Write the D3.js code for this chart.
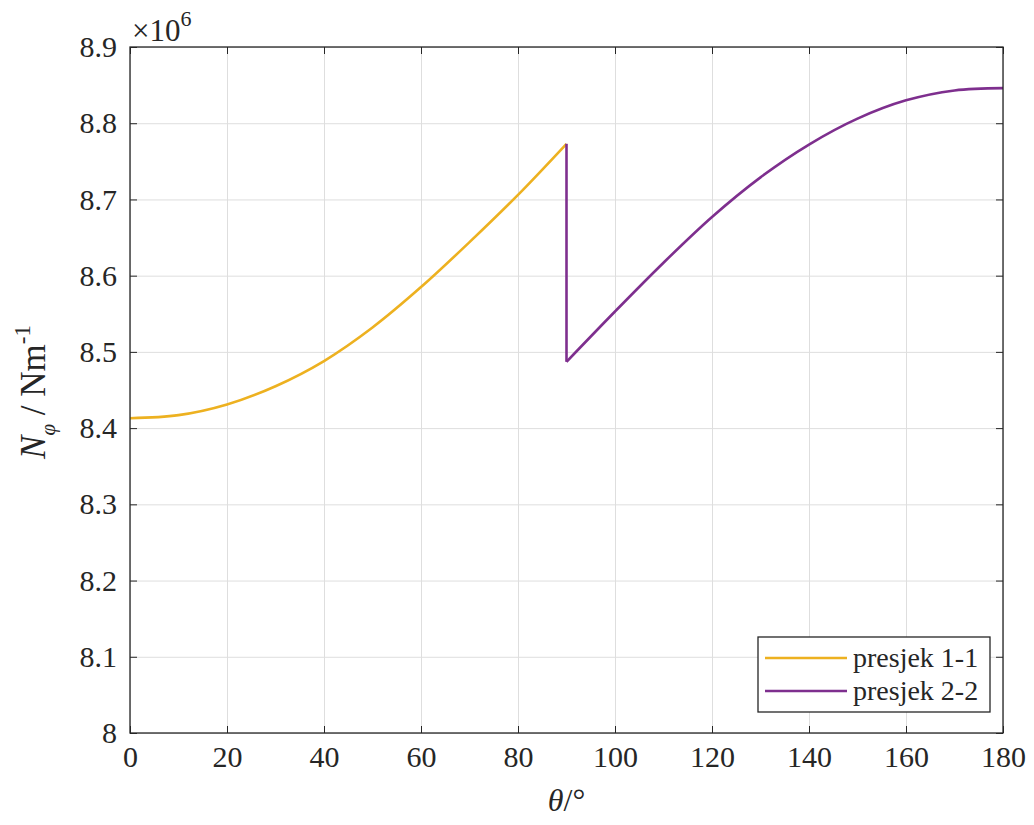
<html>
<head>
<style>
  body { margin: 0; background: #fff; }
  .axis path { stroke: none; }
  .axis line { stroke: #262626; }
  .grid line { stroke: #dedede; stroke-width: 1; }
  .grid path { stroke: none; }
  text { font-family: 'Liberation Serif', 'Times New Roman', serif !important; }
</style>
</head>
<body>
<svg id="chart" width="1034" height="825"></svg>
<script src="https://d3js.org/d3.v7.min.js"></script>
<script>
// angles in degrees, values in units of 1e6 N/m
const theta1 = [0, 10, 20, 30, 40, 50, 60, 70, 80, 90]
const presjek11 = [8.413, 8.417, 8.431, 8.455, 8.488, 8.532, 8.585, 8.644, 8.706, 8.773]
const theta2 = [90, 100, 110, 120, 130, 140, 150, 160, 170, 180]
const presjek22 = [8.487, 8.553, 8.617, 8.677, 8.729, 8.772, 8.806, 8.830, 8.843, 8.846]
const xTicks = [0, 20, 40, 60, 80, 100, 120, 140, 160, 180]
const yTicks = [8, 8.1, 8.2, 8.3, 8.4, 8.5, 8.6, 8.7, 8.8, 8.9]
const seriesNames = ["presjek 1-1", "presjek 2-2"]
const colors = ["#EDB120", "#7E2F8E"]

let svg = d3.select("#chart")
let plotLeft = 130, plotRight = 1003, plotTop = 47, plotBottom = 733
let ink = "#262626"

let xScale = d3.scaleLinear().domain([0, 180]).range([plotLeft, plotRight])
let yScale = d3.scaleLinear().domain([8, 8.9]).range([plotBottom, plotTop])

// grid
svg.append("g").attr("class", "grid")
    .attr("transform", "translate(0," + plotBottom + ")")
    .call(d3.axisBottom(xScale).tickValues(xTicks).tickSize(-(plotBottom - plotTop)).tickFormat(""))
svg.append("g").attr("class", "grid")
    .attr("transform", "translate(" + plotLeft + ",0)")
    .call(d3.axisLeft(yScale).tickValues(yTicks).tickSize(-(plotRight - plotLeft)).tickFormat(""))

// lines
let data1 = theta1.map((t, i) => ({t: t, v: presjek11[i]}))
let data2 = theta2.map((t, i) => ({t: t, v: presjek22[i]}))
let line = d3.line().x(d => xScale(d.t)).y(d => yScale(d.v)).curve(d3.curveCatmullRom.alpha(0.5))
let straight = d3.line().x(d => xScale(d.t)).y(d => yScale(d.v))

svg.append("path").datum(data1).attr("d", line)
    .attr("fill", "none").attr("stroke", colors[0]).attr("stroke-width", 2.6)
    .attr("stroke-linejoin", "round")
// jump at 90 degrees belongs to presjek 2-2
let jump = [data1[data1.length - 1], data2[0]]
svg.append("path").datum(jump).attr("d", straight)
    .attr("fill", "none").attr("stroke", colors[1]).attr("stroke-width", 2.6)
svg.append("path").datum(data2).attr("d", line)
    .attr("fill", "none").attr("stroke", colors[1]).attr("stroke-width", 2.6)
    .attr("stroke-linejoin", "round")

// axes, ticks inward on all sides
let tl = 7
svg.append("g").attr("class", "axis")
    .attr("transform", "translate(0," + plotBottom + ")")
    .call(d3.axisBottom(xScale).tickValues(xTicks).tickSize(-tl).tickPadding(13).tickFormat(d3.format("d")))
svg.append("g").attr("class", "axis")
    .attr("transform", "translate(0," + plotTop + ")")
    .call(d3.axisTop(xScale).tickValues(xTicks).tickSize(-tl).tickFormat(""))
svg.append("g").attr("class", "axis")
    .attr("transform", "translate(" + plotLeft + ",0)")
    .call(d3.axisLeft(yScale).tickValues(yTicks).tickSize(-tl).tickPadding(13).tickFormat(d => d3.format("~g")(d)))
svg.append("g").attr("class", "axis")
    .attr("transform", "translate(" + plotRight + ",0)")
    .call(d3.axisRight(yScale).tickValues(yTicks).tickSize(-tl).tickFormat(""))

svg.selectAll(".axis").attr("font-size", 30)
svg.selectAll(".axis .tick text").attr("fill", ink)

svg.append("rect")
    .attr("x", plotLeft).attr("y", plotTop)
    .attr("width", plotRight - plotLeft).attr("height", plotBottom - plotTop)
    .attr("fill", "none").attr("stroke", ink).attr("stroke-width", 1.3)

// exponent
let exp = svg.append("text").attr("fill", ink)
    .attr("x", plotLeft + 2).attr("y", 41).attr("font-size", 31)
exp.append("tspan").text("\u00d710")
exp.append("tspan").attr("font-size", 22).attr("dy", -15).text("6")

// axis labels
let xl = svg.append("text").attr("fill", ink)
    .attr("x", (plotLeft + plotRight) / 2).attr("y", 811)
    .attr("text-anchor", "middle").attr("font-size", 32)
xl.append("tspan").attr("font-style", "italic").text("\u03b8")
xl.append("tspan").text("/\u00b0")

let yl = svg.append("text").attr("fill", ink)
    .attr("transform", "translate(45,392) rotate(-90)")
    .attr("text-anchor", "middle").attr("font-size", 35)
yl.append("tspan").attr("font-style", "italic").text("N")
yl.append("tspan").attr("font-style", "italic").attr("font-size", 21).attr("dy", 10).text("\u03c6")
yl.append("tspan").attr("dy", -10).text(" / Nm")
yl.append("tspan").attr("font-size", 23).attr("dy", -15).text("-1")

// legend
let lg = svg.append("g")
lg.append("rect").attr("x", 758).attr("y", 637).attr("width", 232).attr("height", 75)
    .attr("fill", "#fff").attr("stroke", ink).attr("stroke-width", 1.3)
seriesNames.forEach((name, i) => {
    let yy = 658 + i * 33
    lg.append("line").attr("x1", 765).attr("x2", 847).attr("y1", yy).attr("y2", yy)
        .attr("stroke", colors[i]).attr("stroke-width", 2.6)
    lg.append("text").attr("fill", ink).attr("x", 853).attr("y", yy + 9)
        .attr("font-size", 28).text(name)
})
</script>
</body>
</html>
